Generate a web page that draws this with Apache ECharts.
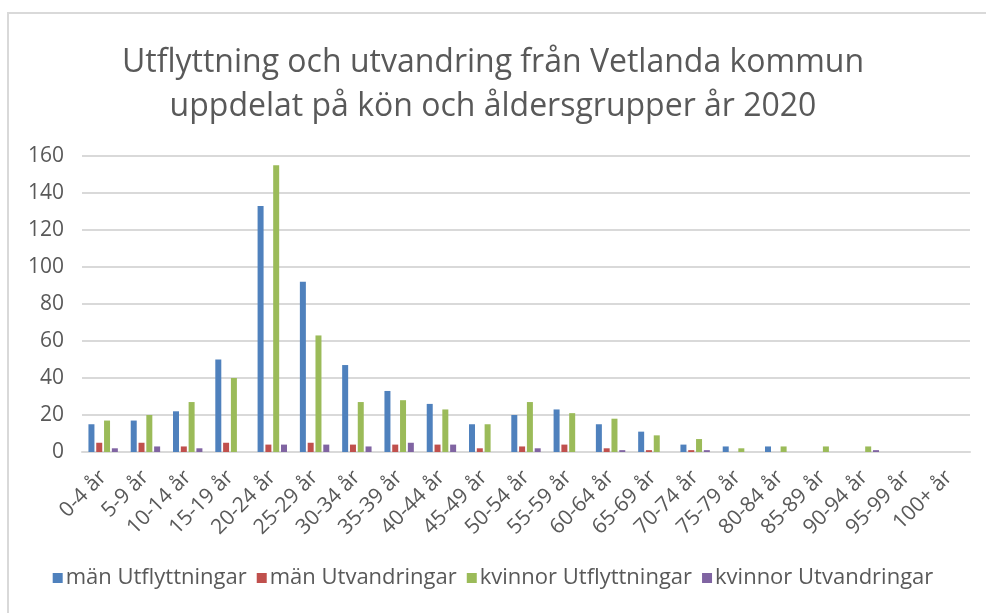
<!DOCTYPE html>
<html>
<head>
<meta charset="utf-8">
<script src="https://cdn.jsdelivr.net/npm/echarts@6/dist/echarts.min.js"></script>
<style>
  html, body { margin: 0; padding: 0; background: #fff; }
  #chart { position: absolute; left: 0; top: 0; width: 986px; height: 613px; }
  /* kantlinje runt diagrammet (bara vänster och topp syns) */
  #frame { position: absolute; left: 7px; top: 12px; width: 990px; height: 620px;
           border-left: 2px solid #d9d9d9; border-top: 2px solid #d9d9d9; pointer-events: none; }
</style>
</head>
<body>
<div id="chart"></div>
<div id="frame"></div>
<script>
// åldersgrupper
var categories = ["0-4 år", "5-9 år", "10-14 år", "15-19 år", "20-24 år", "25-29 år", "30-34 år",
    "35-39 år", "40-44 år", "45-49 år", "50-54 år", "55-59 år", "60-64 år", "65-69 år",
    "70-74 år", "75-79 år", "80-84 år", "85-89 år", "90-94 år", "95-99 år", "100+ år"];

var manUtflyttningar     = [15, 17, 22, 50, 133, 92, 47, 33, 26, 15, 20, 23, 15, 11, 4, 3, 3, 0, 0, 0, 0];
var manUtvandringar      = [5, 5, 3, 5, 4, 5, 4, 4, 4, 2, 3, 4, 2, 1, 1, 0, 0, 0, 0, 0, 0];
var kvinnorUtflyttningar = [17, 20, 27, 40, 155, 63, 27, 28, 23, 15, 27, 21, 18, 9, 7, 2, 3, 3, 3, 0, 0];
var kvinnorUtvandringar  = [2, 3, 2, 0, 4, 4, 3, 5, 4, 0, 2, 0, 1, 0, 1, 0, 0, 0, 1, 0, 0];

var seriesNames = ["män Utflyttningar", "män Utvandringar", "kvinnor Utflyttningar", "kvinnor Utvandringar"];
var yTicks = [0, 20, 40, 60, 80, 100, 120, 140, 160];

var colors = ["#4f81bd", "#c0504d", "#9bbb59", "#8064a2"];
var font = "'Open Sans', 'Noto Sans', sans-serif";

var chart = echarts.init(document.getElementById("chart"));

function bar(name, data) {
    return {
        name: name,
        type: "bar",
        data: data,
        barWidth: 6,
        barGap: "30%"
    };
}

var option = {
    animation: false,
    color: colors,
    title: {
        text: "Utflyttning och utvandring från Vetlanda kommun\nuppdelat på kön och åldersgrupper år 2020",
        left: "center",
        top: 36,
        textStyle: {
            fontFamily: font,
            fontWeight: "normal",
            fontSize: 32,
            lineHeight: 44,
            color: "#595959"
        }
    },
    legend: {
        bottom: 19,
        left: "center",
        itemWidth: 10,
        itemHeight: 10,
        itemGap: 10,
        icon: "rect",
        textStyle: { fontFamily: font, fontSize: 22, color: "#595959", padding: [0, 0, 0, -2] },
        data: seriesNames
    },
    grid: { left: 82, right: 16, top: 156, bottom: 161 },
    xAxis: {
        type: "category",
        data: categories,
        axisTick: { show: false },
        axisLine: { lineStyle: { color: "#d9d9d9", width: 2 } },
        axisLabel: {
            rotate: 45,
            interval: 0,
            fontFamily: font,
            fontSize: 21,
            color: "#595959",
            margin: 22
        }
    },
    yAxis: {
        type: "value",
        min: yTicks[0],
        max: yTicks[yTicks.length - 1],
        interval: 20,
        axisLine: { show: false },
        axisTick: { show: false },
        splitLine: { lineStyle: { color: "#d9d9d9", width: 2 } },
        axisLabel: { fontFamily: font, fontSize: 21, color: "#595959", margin: 18 }
    },
    series: [
        bar(seriesNames[0], manUtflyttningar),
        bar(seriesNames[1], manUtvandringar),
        bar(seriesNames[2], kvinnorUtflyttningar),
        bar(seriesNames[3], kvinnorUtvandringar)
    ]
};

chart.setOption(option);
</script>
</body>
</html>
